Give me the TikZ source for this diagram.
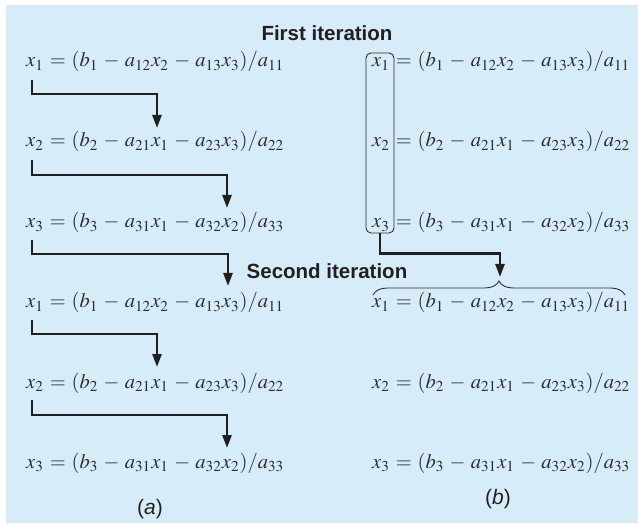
\documentclass[tikz,border=0pt]{standalone}
\usepackage{mathptmx}
\usepackage[no-math]{fontspec}
\setsansfont{Liberation Sans}
\usetikzlibrary{arrows.meta,decorations.pathreplacing}
\definecolor{bgblue}{RGB}{214,236,249}
\definecolor{inkgray}{RGB}{45,45,45}
\definecolor{inkdark}{RGB}{35,31,32}
\newcommand{\mysp}{\medmuskip=4.6mu\thickmuskip=5.2mu}
\newcommand{\myeqA}{\scalebox{2.05}{$\mysp x_1 = (b_1 - a_{12}x_2 - a_{13}x_3)/a_{11}$}}
\newcommand{\myeqB}{\scalebox{2.05}{$\mysp x_2 = (b_2 - a_{21}x_1 - a_{23}x_3)/a_{22}$}}
\newcommand{\myeqC}{\scalebox{2.05}{$\mysp x_3 = (b_3 - a_{31}x_1 - a_{32}x_2)/a_{33}$}}
\begin{document}
\begin{tikzpicture}[x=1pt,y=-1pt,
  eqst/.style={anchor=base west, inner sep=0pt, text=inkgray},
  headst/.style={anchor=base, inner sep=0pt, text=inkdark, font=\sffamily\bfseries\fontsize{20.5}{24}\selectfont},
  capst/.style={anchor=base, inner sep=0pt, text=inkdark, font=\sffamily\fontsize{21}{24}\selectfont},
  flow/.style={draw=inkdark, line width=2.5pt, -{Triangle[length=13pt,width=9pt]}},
  boxst/.style={draw=inkgray, line width=0.9pt, rounded corners=5pt, inner sep=0pt},
  bracest/.style={draw=inkgray, line width=0.9pt, decorate, decoration={brace, amplitude=14pt}}]
\useasboundingbox (0,0) rectangle (638,524);
\fill[bgblue] (6,5) rectangle (638,523);
% headings
\node[headst] (h1) at (327,41) {First iteration};
\node[headst] (h2) at (327,279) {Second iteration};
% left column
\node[eqst] (l1) at (26,67) {\myeqA};
\node[eqst] (l2) at (26,147) {\myeqB};
\node[eqst] (l3) at (26,228) {\myeqC};
\node[eqst] (l4) at (26,308) {\myeqA};
\node[eqst] (l5) at (26,388) {\myeqB};
\node[eqst] (l6) at (26,468) {\myeqC};
% right column
\node[eqst] (r1) at (372,67) {\myeqA};
\node[eqst] (r2) at (372,147) {\myeqB};
\node[eqst] (r3) at (372,228) {\myeqC};
\node[eqst] (r4) at (372,308) {\myeqA};
\node[eqst] (r5) at (372,388) {\myeqB};
\node[eqst] (r6) at (372,468) {\myeqC};
% captions
\node[capst] (ca) at (150,514) {(\textit{a})};
\node[capst] (cb) at (498,504) {(\textit{b})};
% left arrows
\coordinate (a1s) at (32,80);  \coordinate (a1t) at (157,128);
\coordinate (a2s) at (32,160); \coordinate (a2t) at (227,208);
\coordinate (a3s) at (32,240); \coordinate (a3t) at (228,286);
\coordinate (a4s) at (32,320); \coordinate (a4t) at (157,367);
\coordinate (a5s) at (32,400); \coordinate (a5t) at (227,448);
\draw[flow] (a1s) -- ++(0,14) -| (a1t);
\draw[flow] (a2s) -- ++(0,15) -| (a2t);
\draw[flow] (a3s) -- ++(0,14) -| (a3t);
\draw[flow] (a4s) -- ++(0,14) -| (a4t);
\draw[flow] (a5s) -- ++(0,15) -| (a5t);
% right: box, arrow, brace
\node[boxst, minimum width=28pt, minimum height=180pt] (bx) at (380,143) {};
\coordinate (bl) at (373,295);
\coordinate (br) at (625,295);
\draw[bracest] (bl) -- (br);
\coordinate (bt) at (500,277);
\draw[flow] (bx.south) -- ++(0,20) -| (bt);
\end{tikzpicture}
\end{document}
